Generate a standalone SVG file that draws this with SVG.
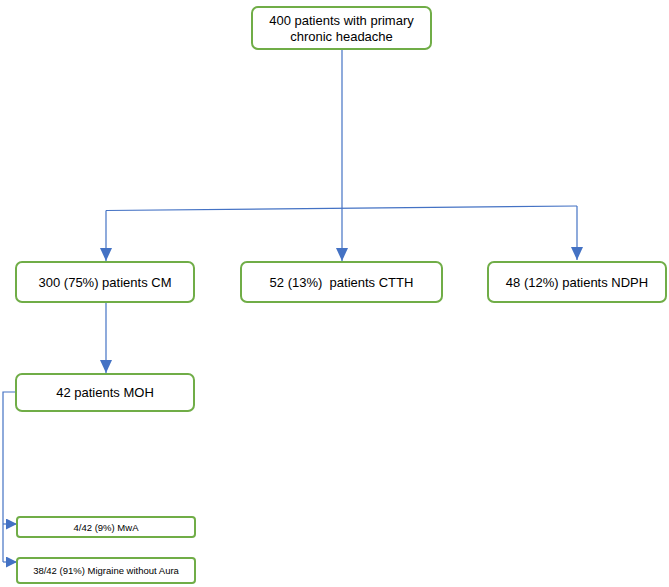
<svg xmlns="http://www.w3.org/2000/svg" width="669" height="587" viewBox="0 0 669 587">
<defs>
<style>
.box{fill:#fff;stroke:#70AD47;stroke-width:2}
.t{font-family:"Liberation Sans",Arial,sans-serif;font-size:13px;fill:#000;text-anchor:middle}
.s{font-family:"Liberation Sans",Arial,sans-serif;font-size:9.5px;fill:#000;text-anchor:middle}
.c{fill:none;stroke:#4472C4;stroke-width:1.2}
</style>
<marker id="ah" viewBox="0 0 10 10" refX="10" refY="5" markerWidth="13" markerHeight="12" markerUnits="userSpaceOnUse" orient="auto" preserveAspectRatio="none">
<path d="M0,0 L10,5 L0,10 z" fill="#4472C4"/>
</marker>
<marker id="ahs" viewBox="0 0 10 10" refX="10" refY="5" markerWidth="11" markerHeight="11" markerUnits="userSpaceOnUse" orient="auto" preserveAspectRatio="none">
<path d="M0,0 L10,5 L0,10 z" fill="#4472C4"/>
</marker>
</defs>
<rect width="669" height="587" fill="#fff"/>
<g id="connectors">
<path class="c" d="M342,50 V261" marker-end="url(#ah)"/>
<path class="c" d="M106,210.5 L577,206"/>
<path class="c" d="M106,210.5 V261" marker-end="url(#ah)"/>
<path class="c" d="M577,206 V260" marker-end="url(#ah)"/>
<path class="c" d="M106,302 V373" marker-end="url(#ah)"/>
<path class="c" d="M16,392 H3 V562"/>
<path class="c" d="M3,524 H17" marker-end="url(#ahs)"/>
<path class="c" d="M3,562 H17" marker-end="url(#ahs)"/>
</g>
<g id="n400">
<rect class="box" x="252" y="7" width="179" height="42" rx="6"/>
<text class="t" x="341.5" y="25">400 patients with primary</text>
<text class="t" x="341.5" y="41">chronic headache</text>
</g>
<g id="nCM">
<rect class="box" x="16" y="262" width="178" height="40" rx="6"/>
<text class="t" x="105" y="286.5">300 (75%) patients CM</text>
</g>
<g id="nCTTH">
<rect class="box" x="241" y="262" width="201" height="40" rx="6"/>
<text class="t" x="341.5" y="286.5" xml:space="preserve">52 (13%)  patients CTTH</text>
</g>
<g id="nNDPH">
<rect class="box" x="488" y="262" width="178" height="40" rx="6"/>
<text class="t" x="577" y="286.5">48 (12%) patients NDPH</text>
</g>
<g id="nMOH">
<rect class="box" x="16" y="374" width="178" height="37" rx="6"/>
<text class="t" x="105" y="397">42 patients MOH</text>
</g>
<g id="nMwA">
<rect class="box" x="17" y="517" width="178" height="20" rx="3"/>
<text class="s" x="106" y="530.5">4/42 (9%) MwA</text>
</g>
<g id="nMwoA">
<rect class="box" x="17" y="558" width="178" height="25" rx="3"/>
<text class="s" x="106" y="574">38/42 (91%) Migraine without Aura</text>
</g>
</svg>
